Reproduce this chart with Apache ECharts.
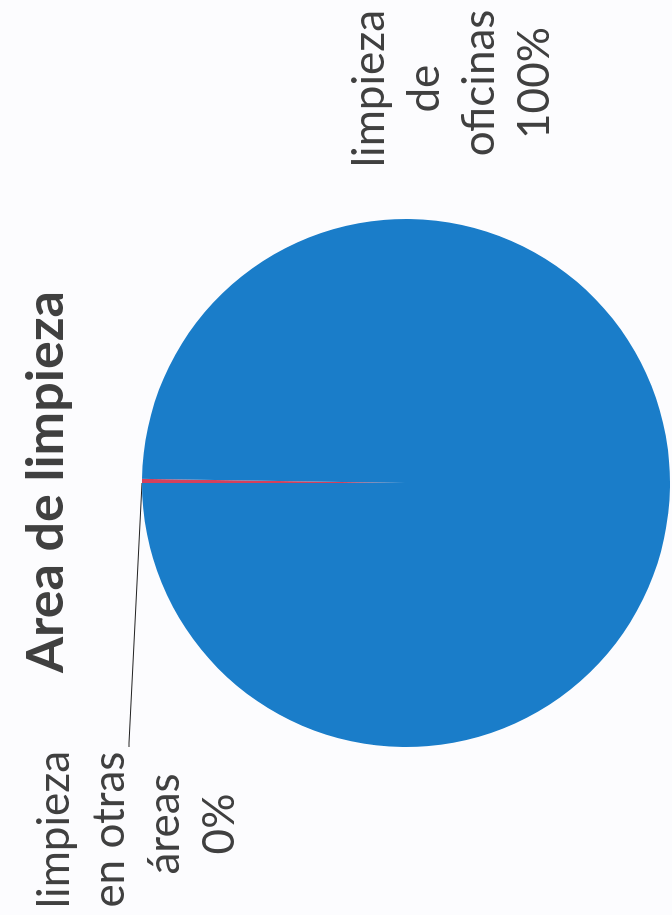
<!DOCTYPE html>
<html>
<head>
<meta charset="utf-8">
<script src="https://cdn.jsdelivr.net/npm/echarts@6/dist/echarts.min.js"></script>
<style>
  html, body { margin: 0; padding: 0; width: 672px; height: 915px; overflow: hidden; background: #fcfcfe; }
  #chart { position: absolute; left: 0; top: 0; width: 915px; height: 672px;
           transform-origin: 0 0; transform: translate(0, 915px) rotate(-90deg); }
</style>
</head>
<body>
<div id="chart"></div>
<script>
const titleText = 'Area de limpieza';
const categories = ['limpieza en otras áreas', 'limpieza de oficinas'];
const values = [0.25, 99.75];
const colors = ['#d4405c', '#1a7dc9'];

const chart = echarts.init(document.getElementById('chart'), null, { renderer: 'canvas' });
const labelPos = [
  { x: 91, y: 137 },
  { x: 832, y: 452 }
];
chart.setOption({
  backgroundColor: '#fcfcfe',
  animation: false,
  graphic: [{
    type: 'text', x: 433, y: 46,
    style: { text: titleText, font: 'bold 52px Lato', fill: '#404040', align: 'center', verticalAlign: 'middle' }
  }],
  series: [{
    type: 'pie',
    center: [432, 406],
    radius: 264,
    startAngle: 90,
    clockwise: true,
    minAngle: 0,
    avoidLabelOverlap: false,
    itemStyle: { borderWidth: 0 },
    label: {
      show: true,
      position: 'outside',
      fontFamily: 'Lato',
      fontSize: 44,
      lineHeight: 55,
      color: '#404040',
      align: 'center',
      width: 190,
      overflow: 'break',
      formatter: p => p.name + '\n' + Math.round(p.percent) + '%'
    },
    labelLine: { show: true, length: 10, length2: 10, lineStyle: { color: '#222', width: 1.2 } },
    labelLayout: function (params) {
      const pos = labelPos[params.dataIndex];
      const out = { x: pos.x, y: pos.y, align: 'center', verticalAlign: 'middle' };
      if (params.dataIndex === 0) {
        out.labelLinePoints = [[432, 142], [172, 129], [168, 129]];
      }
      return out;
    },
    data: categories.map((c, i) => ({
      name: c, value: values[i],
      itemStyle: { color: colors[i] },
      labelLine: { show: i === 0 }
    }))
  }]
});
</script>
</body>
</html>
